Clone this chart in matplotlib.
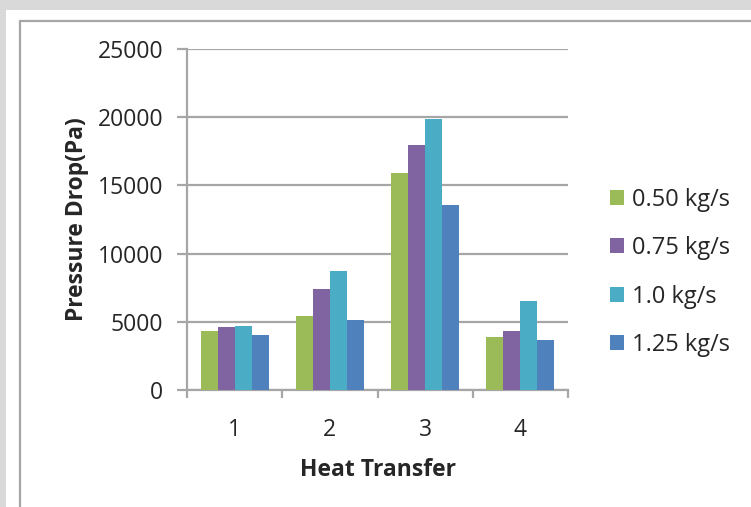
import matplotlib
matplotlib.use("Agg")
import matplotlib.pyplot as plt
import numpy as np
from matplotlib.patches import Rectangle

# ── Data ─────────────────────────────────────────────────────────────────────
categories = ["1", "2", "3", "4"]
series_labels = ["0.50 kg/s", "0.75 kg/s", "1.0 kg/s", "1.25 kg/s"]
flow_050 = [4300, 5450, 15900, 3850]
flow_075 = [4600, 7400, 17950, 4300]
flow_100 = [4700, 8700, 19850, 6500]
flow_125 = [4000, 5150, 13550, 3700]
y_ticks = [0, 5000, 10000, 15000, 20000, 25000]

series = [flow_050, flow_075, flow_100, flow_125]
colors = ["#9BBB59", "#8064A2", "#4BACC6", "#4F81BD"]

FONT = "Open Sans"
GRID = "#a6a6a6"
TEXT = "#262626"
FS = 16.5

W, H = 751, 507
fig = plt.figure(figsize=(W / 100, H / 100), dpi=100, facecolor="#d9d9d9")

# white chart sheet with a grey frame (Excel look), drawn beneath the axes
fig.patches.append(Rectangle((6 / W, 0), 1, 1 - 10 / H, transform=fig.transFigure,
                             facecolor="white", edgecolor="none", zorder=-2))
fig.patches.append(Rectangle((20 / W, -0.1), 1.2, 1.1 - 21 / H, transform=fig.transFigure,
                             facecolor="none", edgecolor=GRID, linewidth=1.6, zorder=-1))

ax = fig.add_axes([187 / W, 1 - 390 / H, (568 - 187) / W, (390 - 49) / H])
ax.set_facecolor("none")

x = np.arange(len(categories))
bw = 0.178
for i, (vals, lab, col) in enumerate(zip(series, series_labels, colors)):
    ax.bar(x + (i - 1.5) * bw, vals, width=bw, color=col, label=lab,
           edgecolor="none", zorder=3)

ax.set_xlim(-0.5, len(categories) - 0.5)
ax.set_ylim(0, 25000)
ax.set_yticks(y_ticks)
ax.set_yticklabels([str(v) for v in y_ticks])
ax.set_xticks(x)
ax.set_xticklabels(categories)
ax.set_xticks(np.arange(-0.5, len(categories)), minor=True)

ax.grid(axis="y", color=GRID, linewidth=1.6, zorder=0)
for s in ("top", "right"):
    ax.spines[s].set_visible(False)
for s in ("left", "bottom"):
    ax.spines[s].set_color(GRID)
    ax.spines[s].set_linewidth(1.6)

ax.tick_params(axis="x", which="major", length=0, pad=20, labelsize=FS,
               labelcolor=TEXT)
ax.tick_params(axis="x", which="minor", length=6, width=1.6, color=GRID,
               direction="out")
ax.tick_params(axis="y", length=7, width=1.6, color=GRID, pad=10,
               labelsize=FS, labelcolor=TEXT)
for t in ax.get_xticklabels() + ax.get_yticklabels():
    t.set_fontfamily(FONT)

ax.set_xlabel("Heat Transfer", fontsize=FS, fontweight="bold", family=FONT,
              color=TEXT, labelpad=12)
ax.set_ylabel("Pressure Drop(Pa)", fontsize=FS, fontweight="bold", family=FONT,
              color=TEXT, labelpad=6)

leg = ax.legend(loc="center left", bbox_to_anchor=(1.11, 0.345), frameon=False,
                prop={"family": FONT, "size": 17}, handlelength=0.6,
                handleheight=0.6, handletextpad=0.34, labelspacing=1.03,
                borderpad=0, borderaxespad=0)
for t in leg.get_texts():
    t.set_color(TEXT)

fig.savefig("out.png", dpi=100, facecolor=fig.get_facecolor())
